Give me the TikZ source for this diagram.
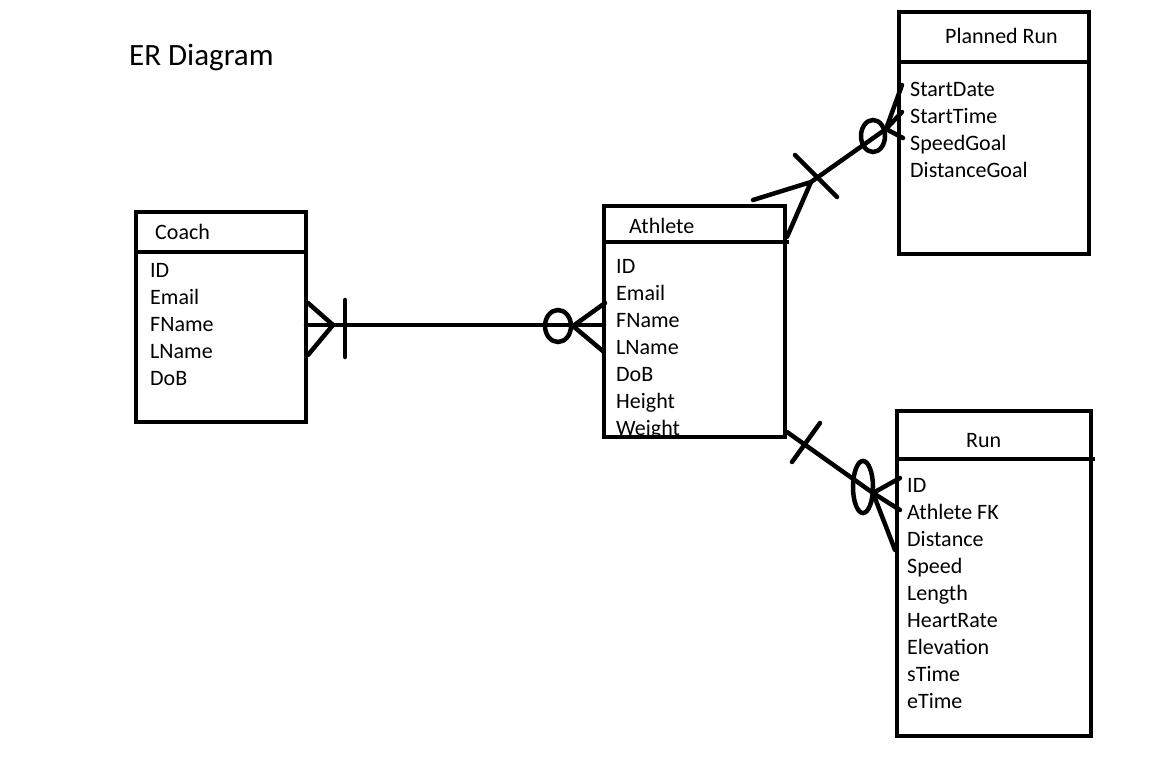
\documentclass[tikz,border=0pt]{standalone}
\usepackage{fontspec}
\setmainfont{Carlito}
\begin{document}
\begin{tikzpicture}[x=1pt,y=-1pt,
  ent/.style={draw, line width=4.5pt, rectangle, inner sep=0pt, outer sep=0pt, anchor=north west},
  ln/.style={line width=4.5pt, line cap=round},
  attr/.style={anchor=base west, inner sep=0pt, font=\fontsize{22}{26}\selectfont},
  ttl/.style={anchor=base west, inner sep=0pt, font=\fontsize{31}{36}\selectfont}]
\useasboundingbox (0,0) rectangle (1152,768);
\fill[white] (0,0) rectangle (1152,768);

\node[ttl] (title) at (129,66) {ER Diagram};

% entity boxes
\node[ent, minimum width=170pt, minimum height=210pt] (coach) at (136,212) {};
\node[ent, minimum width=181pt, minimum height=231pt] (athlete) at (604,206) {};
\node[ent, minimum width=190pt, minimum height=242pt] (planned) at (899,12) {};
\node[ent, minimum width=194pt, minimum height=325pt] (run) at (897,411) {};

% header dividers
\coordinate (cd1) at (136,252); \coordinate (cd2) at (306,252);
\coordinate (ad1) at (604,242); \coordinate (ad2) at (789,242);
\coordinate (pd1) at (899,62);  \coordinate (pd2) at (1089,62);
\coordinate (rd1) at (897,459); \coordinate (rd2) at (1095,459);
\draw[ln, line cap=butt] (cd1) -- (cd2);
\draw[ln, line cap=butt] (ad1) -- (ad2);
\draw[ln, line cap=butt] (pd1) -- (pd2);
\draw[ln, line cap=butt] (rd1) -- (rd2);

% texts
\node[attr] (coachT) at (155,239) {Coach};
\node[attr] (c1) at (150,277) {ID};
\node[attr] (c2) at (150,304) {Email};
\node[attr] (c3) at (150,331) {FName};
\node[attr] (c4) at (150,358) {LName};
\node[attr] (c5) at (150,385) {DoB};

\node[attr] (athT) at (629,233) {Athlete};
\node[attr] (a1) at (616,273) {ID};
\node[attr] (a2) at (616,300) {Email};
\node[attr] (a3) at (616,327) {FName};
\node[attr] (a4) at (616,354) {LName};
\node[attr] (a5) at (616,381) {DoB};
\node[attr] (a6) at (616,408) {Height};
\node[attr] (a7) at (616,435) {Weight};

\node[attr] (plT) at (945,44) {Planned Run};
\node[attr] (p1) at (910,96) {StartDate};
\node[attr] (p2) at (910,123) {StartTime};
\node[attr] (p3) at (910,150) {SpeedGoal};
\node[attr] (p4) at (910,177) {DistanceGoal};

\node[attr] (runT) at (966,447) {Run};
\node[attr] (r1) at (907,492) {ID};
\node[attr] (r2) at (907,519) {Athlete FK};
\node[attr] (r3) at (907,546) {Distance};
\node[attr] (r4) at (907,573) {Speed};
\node[attr] (r5) at (907,600) {Length};
\node[attr] (r6) at (907,627) {HeartRate};
\node[attr] (r7) at (907,654) {Elevation};
\node[attr] (r8) at (907,681) {sTime};
\node[attr] (r9) at (907,708) {eTime};

% ---- Coach -- Athlete
\coordinate (ca0) at (306,325);
\coordinate (ca1) at (604,325);
\coordinate (cf) at (333,325);
\coordinate (cf1) at (308,303);
\coordinate (cf2) at (308,355);
\coordinate (cb1) at (345,300);
\coordinate (cb2) at (345,357);
\coordinate (ce) at (558,326);
\coordinate (af) at (573,326);
\coordinate (af1) at (605,303);
\coordinate (af2) at (604,352);
\draw[ln] (ca0) -- (ca1);
\draw[ln] (cf1) -- (cf) -- (cf2);
\draw[ln] (cb1) -- (cb2);
\draw[ln] (ce) ellipse [x radius=13pt, y radius=16pt];
\draw[ln] (af1) -- (af) -- (af2);

% ---- Athlete -- Planned Run
\coordinate (pa1) at (753,200);
\coordinate (pa2) at (787,237);
\coordinate (pj) at (811,182);
\coordinate (pk) at (886,129);
\coordinate (pb1) at (795,155);
\coordinate (pb2) at (837,197);
\coordinate (pe) at (873,136);
\coordinate (pp1) at (902,85);
\coordinate (pp2) at (902,112);
\coordinate (pp3) at (903,138);
\draw[ln] (pa1) -- (pj) -- (pa2);
\draw[ln] (pj) -- (pk);
\draw[ln] (pb1) -- (pb2);
\draw[ln] (pe) ellipse [x radius=12pt, y radius=16pt];
\draw[ln] (pk) -- (pp1);
\draw[ln] (pk) -- (pp2);
\draw[ln] (pk) -- (pp3);

% ---- Athlete -- Run
\coordinate (ra0) at (787,432);
\coordinate (rk) at (873,493);
\coordinate (rb1) at (792,462);
\coordinate (rb2) at (820,423);
\coordinate (re) at (863,487);
\coordinate (rr1) at (900,478);
\coordinate (rr2) at (900,510);
\coordinate (rr3) at (895,550);
\draw[ln] (ra0) -- (rk);
\draw[ln] (rb1) -- (rb2);
\draw[ln] (re) ellipse [x radius=10pt, y radius=26pt];
\draw[ln] (rk) -- (rr1);
\draw[ln] (rk) -- (rr2);
\draw[ln] (rk) -- (rr3);
\end{tikzpicture}
\end{document}
